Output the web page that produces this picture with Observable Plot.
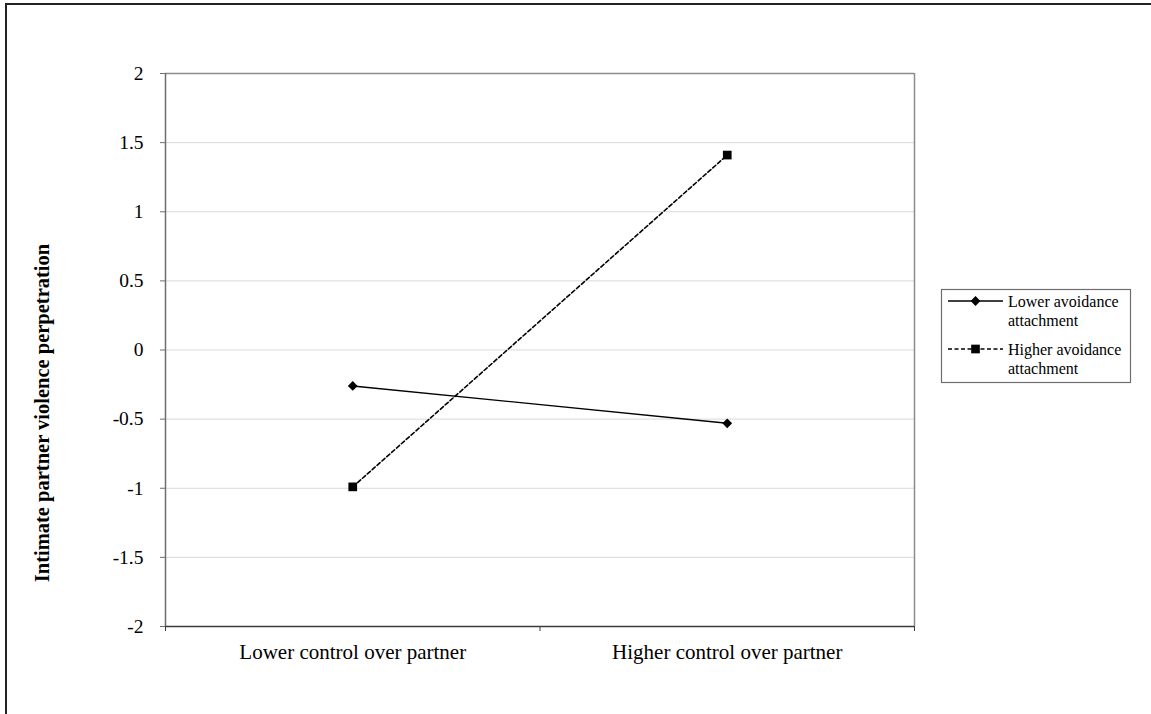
<!DOCTYPE html>
<html>
<head>
<meta charset="utf-8">
<script src="https://cdn.jsdelivr.net/npm/d3@7"></script>
<script src="https://cdn.jsdelivr.net/npm/@observablehq/plot@0.6"></script>
<style>
  html, body { margin: 0; padding: 0; background: #fff; }
  #chart { position: relative; width: 1151px; height: 714px; }
</style>
</head>
<body>
<div id="chart"></div>
<script>
const categories = ["Lower control over partner", "Higher control over partner"];
const seriesNames = ["Lower avoidance attachment", "Higher avoidance attachment"];
const lowerAvoidance = [-0.26, -0.53];
const higherAvoidance = [-0.99, 1.41];
const yTicks = [-2, -1.5, -1, -0.5, 0, 0.5, 1, 1.5, 2];
const yLabel = "Intimate partner violence perpetration";

const serif = "'Liberation Serif', 'Times New Roman', serif";

const rows = [];
categories.forEach((c, i) => {
  rows.push({series: seriesNames[0], pos: i + 0.5, value: lowerAvoidance[i]});
  rows.push({series: seriesNames[1], pos: i + 0.5, value: higherAvoidance[i]});
});
const lowRows = rows.filter(d => d.series === seriesNames[0]);
const highRows = rows.filter(d => d.series === seriesNames[1]);
const edges = d3.range(categories.length + 1);
const centers = categories.map((c, i) => i + 0.5);

const plot = Plot.plot({
  width: 1151,
  height: 714,
  marginLeft: 165,
  marginRight: 237,
  marginTop: 73,
  marginBottom: 88,
  style: {fontFamily: serif, background: "transparent", color: "#000"},
  x: {type: "linear", domain: [0, categories.length], axis: null},
  y: {domain: [-2, 2], axis: null},
  marks: [
    Plot.ruleY(yTicks.filter(v => v > -2 && v < 2), {stroke: "#d9d9d9", strokeWidth: 1}),
    Plot.ruleY([2], {stroke: "#8c8c8c", strokeWidth: 1.5}),
    Plot.ruleX([categories.length], {stroke: "#8c8c8c", strokeWidth: 1.5}),
    Plot.ruleX([0], {stroke: "#6e6e6e", strokeWidth: 1.5}),
    Plot.ruleY([-2], {stroke: "#3a3a3a", strokeWidth: 1.5}),
    Plot.axisY({
      ticks: yTicks, tickSize: 5, tickPadding: 17, stroke: "#6e6e6e",
      tickFormat: d => String(d), fontSize: 19.5, fontFamily: serif, label: null, fill: "#000"
    }),
    Plot.axisX({
      ticks: edges, tickSize: 5, tickFormat: () => "", stroke: "#3a3a3a", label: null
    }),
    Plot.axisX({
      ticks: centers, tickSize: 0, tickPadding: 18, fontFamily: serif,
      tickFormat: d => categories[Math.round(d - 0.5)], fontSize: 21, label: null, fill: "#000"
    }),
    Plot.line(lowRows, {x: "pos", y: "value", stroke: "#000", strokeWidth: 1.4}),
    Plot.line(highRows, {x: "pos", y: "value", stroke: "#000", strokeWidth: 1.6, strokeDasharray: "4,2.5"}),
    Plot.dot(lowRows, {x: "pos", y: "value", symbol: "diamond2", r: 4.4, fill: "#000", stroke: "none"}),
    Plot.dot(highRows, {x: "pos", y: "value", symbol: "square", r: 4.9, fill: "#000", stroke: "none"})
  ]
});

document.getElementById("chart").appendChild(plot);

const svg = d3.select(plot);

// outer border (partially visible frame)
svg.append("path")
  .attr("d", "M6,714 L6,4 L1151,4")
  .attr("fill", "none").attr("stroke", "#222").attr("stroke-width", 2);

// y axis title
svg.append("text")
  .attr("transform", "translate(49,413) rotate(-90)")
  .attr("text-anchor", "middle")
  .attr("font-weight", "bold")
  .attr("font-size", 20.5)
  .attr("fill", "#000")
  .text(yLabel);

// legend
const lg = svg.append("g").attr("font-size", 16).attr("fill", "#000");
lg.append("rect").attr("x", 941.5).attr("y", 289.5).attr("width", 189).attr("height", 93)
  .attr("fill", "#fff").attr("stroke", "#6e6e6e").attr("stroke-width", 1.2);
const entries = [
  {name: seriesNames[0], y: 301, dash: null, sym: d3.symbolDiamond2, size: Math.PI * 4.4 * 4.4, sw: 1.4},
  {name: seriesNames[1], y: 349, dash: "4,2.5", sym: d3.symbolSquare, size: Math.PI * 4.9 * 4.9, sw: 1.6}
];
entries.forEach(e => {
  lg.append("line").attr("x1", 948).attr("x2", 1003).attr("y1", e.y).attr("y2", e.y)
    .attr("stroke", "#000").attr("stroke-width", e.sw).attr("stroke-dasharray", e.dash);
  lg.append("path").attr("d", d3.symbol(e.sym, e.size)()).attr("transform", `translate(975.5,${e.y})`).attr("fill", "#000");
  const words = e.name.split(" ");
  const t = lg.append("text").attr("x", 1008).attr("y", e.y).attr("dy", "0.35em").attr("text-anchor", "start");
  t.append("tspan").attr("x", 1008).text(words.slice(0, 2).join(" "));
  t.append("tspan").attr("x", 1008).attr("dy", 19).text(words.slice(2).join(" "));
});

// ensure serif everywhere
svg.selectAll("text").style("font-family", serif);
</script>
</body>
</html>
